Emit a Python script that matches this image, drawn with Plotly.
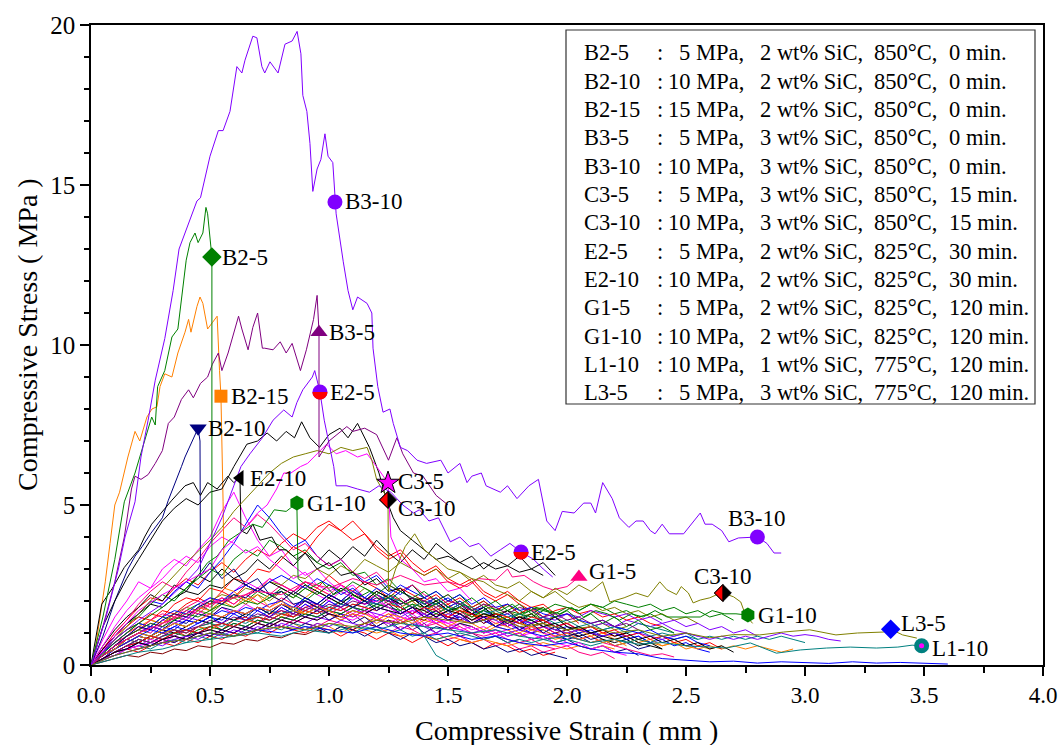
import math
import plotly.graph_objects as go

# ---------------- colours ----------------
K, R, B, M = '#000000', '#FF0000', '#0000FF', '#FF00FF'
OL, NV, PU, VI = '#808000', '#000080', '#800080', '#8000FF'
OR, DC, GR, PK, WI = '#FF8000', '#008080', '#008000', '#FF0080', '#800000'

# ---------------- labelled curves (strain mm, stress MPa) ----------------
B3_10 = [(0,0),(0.06,1.4),(0.115,3.0),(0.143,4.0),(0.185,5.1),(0.21,6.5),(0.24,7.65),(0.27,8.9),(0.31,10.2),(0.345,11.7),
         (0.37,13.0),(0.40,13.6),(0.445,14.5),(0.46,14.6),(0.50,15.9),(0.535,16.7),(0.555,16.7),(0.584,17.3),(0.613,18.7),
         (0.634,18.5),(0.647,18.9),(0.68,19.65),(0.697,19.6),(0.718,18.7),(0.73,18.5),(0.752,18.85),(0.786,18.5),(0.815,19.4),
         (0.845,19.5),(0.866,19.8),(0.882,19.1),(0.89,17.8),(0.907,17.3),(0.92,16.3),(0.932,14.8),(0.95,15.5),(0.966,15.8),
         (0.983,16.6),(0.996,15.9),(1.016,15.7),(1.025,14.5),(1.03,14.1),(1.06,12.6),(1.08,11.7),(1.10,11.1),(1.12,11.5),
         (1.16,11.3),(1.18,11.0),(1.185,9.9),(1.205,8.7),(1.227,7.9),(1.256,8.0),(1.27,7.55),(1.30,6.8),(1.33,6.7),(1.37,6.4),
         (1.41,6.3),(1.47,6.4),(1.50,6.0),(1.55,6.3),(1.58,5.7),(1.60,5.9),(1.64,6.0),(1.66,5.6),(1.72,5.4),(1.75,5.6),
         (1.79,5.2),(1.84,5.6),(1.88,5.8),(1.915,4.5),(1.95,4.2),(1.98,4.8),(2.03,4.75),(2.07,5.06),(2.10,5.06),(2.12,4.75),
         (2.15,5.7),(2.19,5.2),(2.22,4.6),(2.26,4.3),(2.29,4.5),(2.32,4.5),(2.35,4.2),(2.37,4.1),(2.40,4.4),(2.43,4.1),
         (2.49,4.1),(2.56,4.75),(2.58,4.4),(2.61,4.4),(2.65,4.2),(2.68,3.85),(2.72,3.97),(2.77,4.0),(2.80,4.0),(2.84,3.8),
         (2.87,3.5),(2.90,3.5)]
B2_5 = [(0,0),(0.05,1.5),(0.10,3.3),(0.14,5.1),(0.185,6.0),(0.23,7.1),(0.255,7.75),(0.27,7.5),(0.28,8.7),(0.31,9.2),
        (0.34,10.25),(0.365,10.5),(0.39,12.1),(0.40,12.65),(0.416,13.2),(0.437,13.5),(0.45,13.2),(0.47,13.5),(0.483,14.3),
        (0.49,14.1),(0.508,12.75),(0.508,0.0)]
B2_15 = [(0,0),(0.02,0.6),(0.04,1.6),(0.06,2.6),(0.08,3.8),(0.10,5.0),(0.12,5.4),(0.155,6.5),(0.185,7.3),(0.205,7.0),
         (0.235,7.75),(0.256,8.0),(0.277,8.07),(0.29,8.7),(0.31,9.1),(0.34,9.0),(0.365,9.75),(0.395,10.4),(0.41,10.8),
         (0.42,10.4),(0.445,11.2),(0.458,11.5),(0.47,11.3),(0.49,10.5),(0.51,10.7),(0.53,10.9),(0.54,9.2),(0.546,8.4),
         (0.555,5.1),(0.56,2.4),(0.60,2.3),(0.65,2.0),(0.70,2.2),(0.75,1.8),(0.80,2.0),(0.85,1.7),(0.90,1.6)]
B2_10 = [(0,0),(0.05,0.9),(0.10,2.0),(0.155,3.0),(0.185,3.4),(0.215,3.7),(0.25,4.1),(0.30,4.6),(0.325,5.15),(0.355,5.7),
         (0.38,6.2),(0.395,6.5),(0.425,7.0),(0.45,7.4),(0.458,7.0),(0.46,2.8),(0.50,3.2),(0.55,2.7),(0.60,3.0),(0.65,2.5),
         (0.70,2.7),(0.75,2.2),(0.80,2.3),(0.85,1.9),(0.90,2.0),(1.0,1.6)]
B3_5 = [(0,0),(0.05,1.2),(0.10,2.6),(0.14,4.0),(0.17,5.5),(0.185,5.9),(0.21,5.8),(0.24,5.95),(0.27,6.3),(0.30,6.7),
        (0.325,7.55),(0.35,7.75),(0.38,8.3),(0.41,8.6),(0.43,8.35),(0.46,8.8),(0.49,9.0),(0.51,9.4),(0.535,9.75),(0.55,9.2),
        (0.576,9.75),(0.605,10.5),(0.62,10.9),(0.634,10.5),(0.66,9.85),(0.68,10.55),(0.70,11.0),(0.72,9.9),(0.73,9.9),
        (0.765,9.85),(0.795,10.1),(0.82,9.75),(0.845,10.05),(0.88,9.2),(0.905,9.85),(0.935,10.8),(0.95,11.55),(0.958,10.4),
        (0.958,6.5),(1.0,7.0),(1.05,7.3),(1.075,7.45),(1.1,7.3),(1.15,7.4),(1.2,7.2),(1.25,6.4),(1.285,7.1),(1.31,6.6),
        (1.355,6.0),(1.395,5.9),(1.45,5.3),(1.5,5.0)]
E2_5 = [(0,0),(0.1,0.8),(0.2,1.4),(0.3,1.9),(0.4,2.6),(0.45,3.0),(0.5,3.8),(0.55,4.6),(0.6,5.6),(0.63,6.2),(0.668,6.6),
        (0.72,7.1),(0.765,7.65),(0.81,7.97),(0.845,7.75),(0.865,8.2),(0.89,8.6),(0.93,9.0),(0.94,9.2),(0.955,8.7),(0.962,8.53),
        (0.98,7.65),(1.02,6.2),(1.03,5.6),(1.075,5.6),(1.12,5.5),(1.17,5.4),(1.21,5.6),(1.26,5.4),(1.31,5.0),(1.355,4.75),
        (1.38,4.85),(1.42,4.5),(1.46,4.6),(1.51,3.85),(1.55,4.0),(1.59,3.7),(1.63,3.8),(1.68,3.4),(1.72,3.6),(1.76,3.8),
        (1.807,3.53),(1.86,3.3),(1.90,3.0),(1.94,2.75)]
E2_10 = [(0,0),(0.045,1.9),(0.09,2.4),(0.14,3.05),(0.2,3.6),(0.225,4.0),(0.255,4.4),(0.3,4.8),(0.34,5.15),(0.395,5.6),
         (0.43,5.7),(0.46,5.3),(0.49,5.7),(0.53,5.5),(0.575,5.9),(0.6,5.7),(0.626,5.84),(0.63,4.2),(0.655,4.1),(0.68,4.4),
         (0.71,3.9),(0.76,4.0),(0.79,3.6),(0.82,3.6),(0.865,3.3),(0.9,3.5),(0.95,3.0),(1.0,3.2),(1.05,2.8),(1.1,2.9),
         (1.15,2.5),(1.2,2.7),(1.25,2.3),(1.3,2.4),(1.35,2.0),(1.4,2.1)]
BK_HI = [(0,0),(0.05,1.2),(0.1,2.0),(0.15,2.7),(0.2,3.3),(0.25,3.9),(0.3,4.5),(0.35,4.9),(0.4,5.2),(0.45,5.0),(0.5,5.4),
         (0.55,5.5),(0.6,6.2),(0.655,6.9),(0.7,7.0),(0.74,7.25),(0.78,7.0),(0.82,7.3),(0.855,7.1),(0.885,7.6),(0.92,7.1),
         (0.96,6.8),(1.0,7.2),(1.046,7.4),(1.08,7.1),(1.12,7.55),(1.17,6.8),(1.21,6.0),(1.24,5.2),(1.27,4.6),(1.3,4.2),
         (1.35,3.9),(1.4,3.6),(1.45,3.3),(1.5,3.4),(1.55,3.2),(1.6,3.0),(1.65,3.2),(1.7,3.0),(1.75,3.1),(1.8,2.9),(1.85,3.0),(1.9,2.8)]
G1_10 = [(0,0),(0.1,0.7),(0.2,1.3),(0.3,1.8),(0.4,2.4),(0.45,2.8),(0.49,3.2),(0.53,3.4),(0.58,3.9),(0.62,4.1),(0.68,4.4),
         (0.72,4.3),(0.77,4.85),(0.82,4.8),(0.865,5.06),(0.87,2.7),(0.92,2.4),(0.97,2.6),(1.02,2.2),(1.07,2.4),(1.12,2.1),
         (1.17,2.3),(1.22,2.0),(1.27,2.2),(1.32,1.9),(1.37,2.1),(1.42,1.8),(1.47,2.0),(1.52,1.7),(1.57,1.9),(1.62,1.6),
         (1.67,1.8),(1.72,1.7),(1.77,1.9),(1.82,1.6),(1.87,1.8),(1.92,1.7),(1.97,1.6),(2.02,1.8),(2.07,1.5),(2.12,1.7),
         (2.17,1.6),(2.22,1.4),(2.27,1.6),(2.32,1.5),(2.37,1.7),(2.42,1.5),(2.47,1.5),(2.52,1.5),(2.56,1.5),(2.61,1.7),
         (2.66,1.6),(2.71,1.6),(2.76,1.56)]
G1_5 = [(0,0),(0.1,0.6),(0.2,1.0),(0.3,1.3),(0.4,1.6),(0.5,1.9),(0.6,2.1),(0.7,2.3),(0.8,2.2),(0.9,2.6),(1.0,2.4),(1.1,2.7),
        (1.2,2.5),(1.3,2.8),(1.4,2.5),(1.5,2.6),(1.58,2.45),(1.63,2.7),(1.7,2.65),(1.75,3.0),(1.77,2.75),(1.82,2.8),(1.86,2.6),
        (1.9,2.45),(1.94,2.35),(2.0,2.45),(2.05,2.75)]
C3_5 = [(0,0),(0.1,0.9),(0.2,1.7),(0.3,2.2),(0.4,2.6),(0.5,3.0),(0.55,3.6),(0.6,3.9),(0.65,4.3),(0.70,4.75),(0.74,5.0),
        (0.78,5.5),(0.81,6.0),(0.84,6.0),(0.88,6.2),(0.91,6.3),(0.95,6.6),(0.99,6.9),(1.03,6.6),(1.07,6.7),(1.12,6.5),
        (1.16,6.6),(1.2,6.2),(1.248,5.69),(1.26,4.0),(1.3,3.3),(1.35,3.0),(1.4,2.6),(1.45,2.7),(1.5,2.3),(1.55,2.4),(1.6,2.0)]
C3_10 = [(0,0),(0.1,0.8),(0.2,1.6),(0.3,2.4),(0.4,3.2),(0.5,3.9),(0.55,4.3),(0.6,4.8),(0.65,5.2),(0.7,5.6),(0.75,6.0),
         (0.8,6.3),(0.85,6.5),(0.9,6.6),(0.95,6.7),(1.0,6.6),(1.05,6.8),(1.1,6.7),(1.16,6.8),(1.18,6.4),(1.2,5.8),(1.23,5.4),
         (1.248,5.16),(1.25,2.3),(1.28,3.0),(1.32,3.7),(1.36,4.1),(1.40,3.6),(1.45,3.3),(1.5,3.0),(1.55,2.9),(1.6,2.7),
         (1.65,2.6),(1.7,2.35),(1.75,2.2),(1.8,2.0),(1.85,2.3),(1.9,2.1),(1.95,2.4),(2.0,2.2),(2.05,2.5),(2.1,2.3),(2.15,2.6),
         (2.18,1.97),(2.24,2.1),(2.29,2.25),(2.34,2.13),(2.39,2.6),(2.42,2.35),(2.46,2.2),(2.48,2.45),(2.51,2.25),(2.53,1.94),
         (2.56,2.03),(2.60,2.1),(2.63,2.2),(2.655,2.25),(2.70,2.13),(2.73,1.97),(2.75,1.56),(2.78,1.3)]
L3_5 = [(0,0),(0.1,0.3),(0.2,0.5),(0.3,0.7),(0.4,0.8),(0.5,1.0),(0.6,0.9),(0.7,1.1),(0.8,1.2),(0.9,1.1),(1.0,1.3),(1.1,1.2),
        (1.2,1.4),(1.3,1.3),(1.4,1.5),(1.5,1.4),(1.6,1.3),(1.7,1.5),(1.8,1.2),(1.9,1.3),(2.0,1.1),(2.1,1.2),(2.2,1.0),(2.3,1.1),
        (2.4,0.9),(2.5,1.0),(2.6,0.85),(2.7,0.95),(2.81,0.94),(2.91,1.03),(3.02,1.1),(3.13,0.94),(3.22,1.0),(3.33,1.03),
        (3.36,1.12),(3.41,0.94),(3.47,0.84)]
L1_10 = [(0,0),(0.1,0.2),(0.2,0.4),(0.3,0.5),(0.4,0.7),(0.5,0.8),(0.6,0.9),(0.7,1.0),(0.8,0.9),(0.9,1.1),(1.0,1.0),(1.1,1.2),
         (1.2,1.1),(1.3,1.3),(1.4,1.2),(1.5,1.1),(1.6,1.0),(1.7,1.1),(1.8,0.9),(1.9,0.8),(2.0,0.9),(2.1,0.7),(2.2,0.8),
         (2.3,0.65),(2.4,0.7),(2.5,0.6),(2.6,0.55),(2.67,0.53),(2.77,0.69),(2.88,0.37),(2.98,0.47),(3.09,0.53),(3.19,0.56),
         (3.3,0.53),(3.39,0.56),(3.45,0.62),(3.49,0.6)]
BLUE_LOW = [(0,0),(0.1,0.3),(0.2,0.5),(0.3,0.7),(0.4,0.8),(0.5,1.0),(0.6,0.9),(0.7,1.1),(0.8,1.0),(0.9,1.2),(1.0,1.1),
            (1.1,1.0),(1.2,1.2),(1.3,1.0),(1.4,0.9),(1.5,1.0),(1.6,0.8),(1.7,0.9),(1.8,0.7),(1.9,0.6),(2.0,0.7),(2.1,0.5),
            (2.2,0.4),(2.3,0.35),(2.4,0.2),(2.5,0.15),(2.6,0.1),(2.7,0.12),(2.8,0.06),(2.9,0.1),(3.0,0.08),(3.1,0.05),
            (3.2,0.1),(3.3,0.06),(3.4,0.08),(3.5,0.05),(3.6,0.03)]

# ---------------- unlabelled curves (stress sampled every 0.05 mm from 0) ----------------
STEP = 0.05
bg01 = [0,0.5,1.0,1.4,1.8,2.1,2.0,2.4,2.7,2.5,2.9,3.2,2.9,3.3,3.6,3.4,3.8,4.1,3.9,4.3,4.5,4.2,3.9,4.1,3.6,3.3,3.5,3.0,2.8,3.0,2.6,2.4,2.6,2.2,2.0,2.2,1.9,1.7,1.8,1.5,1.6,1.3]
bg02 = [0,0.8,1.5,2.0,2.6,2.4,3.0,3.3,3.1,3.6,4.0,4.8,5.4,4.6,3.9,3.4,3.6,3.1,2.8,3.0,2.6,2.3,2.5,2.1,1.9,2.1,1.8,1.6,1.8,1.5,1.3,1.4]
bg03 = [0,0.6,1.1,1.5,1.8,2.2,2.0,2.5,2.3,2.8,2.6,3.0,2.7,2.9,3.3,3.0,3.4,3.1,3.5,3.2,3.6,3.3,3.7,3.4,3.9,3.5,3.2,3.6,3.3,3.8,3.5,3.2,3.4,3.0,3.3,3.1,3.4,3.0,3.2,2.8]
bg04 = [0,0.4,0.9,1.3,1.6,2.0,1.9,2.3,2.6,2.4,2.9,3.3,3.8,4.4,5.0,4.6,4.1,3.7,3.9,3.4,3.1,3.3,2.9,2.6,2.8,2.4,2.2,2.5,2.1,1.9,2.1,1.8,1.6,1.8,1.5]
bg05 = [0,0.5,0.9,1.3,1.5,1.9,2.2,2.0,2.4,2.7,3.0,2.8,3.3,3.6,3.4,3.9,3.7,3.4,3.6,3.2,3.0,3.2,2.8,2.9,2.5,2.7,2.3,2.5,2.1,2.3,2.0,2.2,1.8,2.0,1.7,1.9,1.6,1.7,1.4,1.5,1.2]
bg06 = [0,0.5,1.0,1.4,1.9,2.3,2.6,2.4,2.9,3.3,3.8,4.2,4.6,4.3,4.7,4.4,4.0,3.6,3.8,3.4,3.1,3.3,2.9,2.7,2.9,2.5,2.3,2.5,2.2,2.0,2.2,1.9,1.7,1.9,1.6,1.4]
bg07 = [0,0.4,0.8,1.1,1.3,1.6,1.5,1.9,2.1,2.0,2.4,2.3,2.7,2.6,3.0,2.9,3.3,3.7,3.5,4.0,4.4,4.2,4.5,4.1,3.7,3.4,3.6,3.2,2.9,3.1,2.7,2.5,2.7,2.3,2.1,2.3,2.0,1.8,1.9,1.6]
bg08 = [0,0.3,0.6,0.8,1.0,0.9,1.2,1.1,1.4,1.3,1.5,1.4,1.7,1.6,1.8,1.7,1.9,1.8,2.1,1.9,2.2,2.0,2.3,2.1,2.0,2.2,1.9,2.1,1.8,1.9,1.7,1.8,1.6,1.7,1.5,1.4,1.5,1.3,1.4,1.2,1.1,1.2,1.0,0.9,1.0,0.8,0.9,0.7]
bg09 = [0,0.2,0.5,0.7,0.9,0.8,1.0,1.1,0.9,1.2,1.3,1.1,1.4,1.5,1.3,1.6,1.7,1.5,1.8,1.9,1.7,2.0,1.8,2.1,1.9,2.2,2.0,1.8,2.0,1.7,1.9,1.6,1.8,1.5,1.6,1.4,1.5,1.3,1.4,1.2,1.3,1.1,1.2,1.0,0.9,1.0]
bg10 = [0,0.4,0.7,1.0,1.2,1.1,1.4,1.3,1.5,1.7,1.5,1.8,1.6,1.9,1.7,1.5,1.8,1.6,1.9,1.7,2.0,1.8,1.6,1.8,1.5,1.7,1.4,1.6,1.3,1.5,1.2,1.3,1.1,1.2,1.0,1.1,0.9,1.0,0.8,0.9,0.7]
bg11 = [0,0.3,0.6,0.9,1.1,1.0,1.3,1.5,1.4,1.7,1.6,1.9,2.1,1.9,2.2,2.0,2.3,2.1,2.4,2.2,2.5,2.3,2.1,2.4,2.2,2.0,2.3,2.1,1.9,2.1,1.8,2.0,1.7,1.9,1.6,1.7,1.5,1.6,1.4,1.5,1.3,1.4,1.2,1.3,1.1,1.2]
bg12 = [0,0.2,0.4,0.6,0.7,0.9,0.8,1.0,1.1,1.0,1.2,1.1,1.3,1.2,1.4,1.3,1.5,1.4,1.6,1.5,1.7,1.6,1.8,1.7,1.9,1.8,1.6,1.8,1.5,1.7,1.4,1.5,1.3,1.4,1.2,1.3,1.1,1.0,1.1,0.9,0.8,0.9,0.7,0.8,0.6,0.7,0.5,0.6]
bg13 = [0,0.3,0.5,0.7,0.9,0.8,1.0,0.9,1.1,1.2,1.1,1.3,1.2,1.4,1.3,1.5,1.4,1.6,1.5,1.7,1.6,1.4,1.6,1.3,1.5,1.2,1.4,1.1,1.3,1.0,1.2,0.9,1.0,0.8,0.9,0.7,0.8]
bg14 = [0,0.2,0.4,0.5,0.7,0.6,0.8,0.9,0.8,1.0,0.9,1.1,1.0,1.2,1.1,1.3,1.2,1.4,1.3,1.5,1.4,1.6,1.5,1.7,1.6,1.5,1.7,1.4,1.6,1.3,1.5,1.4,1.6,1.3,1.5,1.2,1.4,1.3,1.5,1.2,1.3,1.1,1.2,1.3,1.2,1.4,1.3,1.2,1.3,1.1,1.0,0.9]
bg15 = [0,0.3,0.6,0.8,1.0,1.2,1.1,1.3,1.2,1.4,1.6,1.5,1.7,1.6,1.8,1.7,1.5,1.7,1.6,1.8,1.6,1.4,1.6,1.5,1.3,1.5,1.4,1.2,1.4,1.3,1.1,1.3,1.2,1.0,1.2,1.1,0.9,1.1,1.0,0.8,0.9,0.8,0.7,0.8,0.6,0.7,0.8,0.7,0.6,0.7,0.5,0.6,0.5,0.6]
bg16 = [0,0.3,0.5,0.8,1.0,0.9,1.1,1.3,1.2,1.4,1.3,1.5,1.4,1.6,1.5,1.7,1.6,1.8,1.7,1.9,1.8,2.0,2.1,1.9,2.2,2.0,1.8,2.0,1.7,1.9,1.6,1.8,1.5,1.6,1.4,1.5,1.3,1.4,1.2,1.3,1.1,1.2,1.0,1.1,1.2,1.1,1.3,1.2,1.1,1.0]
bg17 = [0,0.4,0.8,1.1,1.3,1.2,1.5,1.4,1.7,1.9,1.7,2.0,2.2,2.0,2.3,2.1,2.4,2.2,2.0,2.3,2.1,1.9,2.2,2.0,1.8,2.0,1.7,1.9,1.6,1.8,1.5,1.7,1.4,1.6,1.5,1.7,1.6,1.8,1.7,1.9,1.8,1.7,1.9,1.8,1.6,1.7,1.5,1.6,1.4]
bg18 = [0,0.2,0.4,0.6,0.5,0.7,0.8,0.7,0.9,1.0,0.9,1.1,1.0,1.2,1.1,1.3,1.2,1.4,1.3,1.2,1.4,1.3,1.1,1.3,1.2,1.0,1.2,1.1,0.9,1.0,0.8,0.9,0.7,0.8,0.6,0.7,0.5,0.6,0.4,0.5]
bg19 = [0,0.1,0.2,0.3,0.25,0.4,0.35,0.5,0.45,0.6,0.55,0.7,0.65,0.8,0.75,0.9,0.85,1.0,0.95,1.1,1.0,1.2,1.1,1.3,1.2,1.4,1.3,1.5,1.4,1.6,1.5,1.4,1.6,1.3,1.5,1.2,1.4,1.1,1.2,1.0,1.1,0.9]
bg20 = [0,0.3,0.5,0.8,0.7,0.9,1.1,1.0,1.2,1.4,1.3,1.5,1.4,1.6,1.8,1.6,1.9,1.7,2.0,1.8,2.1,1.9,2.2,2.0,2.3,2.1,1.9,2.1,1.8,2.0,1.7,1.8,1.6,1.5,1.6,1.4,1.3,1.2,1.3,1.1,1.0,0.9,1.0,0.8,0.7,0.8,0.6,0.7,0.5]
bg21 = [0,0.5,0.9,1.2,1.5,1.4,1.7,1.6,1.9,2.1,1.9,2.3,2.1,2.5,2.3,2.7,2.5,2.3,2.6,2.4,2.8,2.5,2.3,2.6,2.4,2.1,2.4,2.2,2.0,2.2,1.9,2.1,1.8,2.0,1.7,1.9,1.6,1.8,1.5,1.7,1.8,1.6,1.7,1.5,1.6,1.4,1.5,1.3,1.2]
bg22 = [0,0.2,0.5,0.7,0.9,0.8,1.0,1.2,1.1,1.3,1.5,1.3,1.6,1.4,1.7,1.5,1.8,1.6,1.9,1.7,2.0,1.8,2.1,1.9,2.2,2.0,2.3,2.1,1.9,2.1,1.8,2.0,1.7,1.8,1.5,1.6,1.4,1.2,1.3,1.1,1.2,1.0,1.1,0.9,1.0,0.8,0.9,0.7,0.8,0.6,0.7,0.5,0.4]
bg23 = [0,0.3,0.6,0.9,1.2,1.0,1.3,1.6,1.4,1.8,2.1,1.9,2.3,2.6,2.4,2.7,2.5,2.3,2.5,2.2,2.0,2.3,2.1,1.9,2.1,1.8,1.6,1.8,1.5,1.7,1.4,1.6,1.3,1.5,1.2,1.3,1.1,1.2,1.0,0.9,1.0,0.8,0.9,0.7]
bg24 = [0,0.3,0.6,0.9,1.1,1.4,1.3,1.6,1.8,1.7,2.0,2.2,2.1,2.4,2.3,2.6,2.5,2.8,2.7,3.0,2.8,3.1,2.9,3.3,3.1,2.9,3.2,3.0,2.8,3.0,2.7,2.9,2.6,2.8,2.5,2.4,2.6,2.3,2.1,2.3,2.0,1.8,1.9,1.7,1.8,1.6,1.7,1.5,1.6,1.4,1.5,1.3]
bg25 = [0,0.3,0.6,0.8,1.0,1.2,1.1,1.4,1.3,1.6,1.5,1.8,1.7,1.5,1.8,1.6,1.9,1.7,1.5,1.7,1.4,1.6,1.3,1.5,1.2,1.4,1.1,1.3,1.0,1.2,1.1,1.3,1.2,1.0,1.1,0.9,1.0,0.8,0.9,0.7,0.8,0.6,0.5,0.6,0.4,0.5,0.3]
bg26 = [0,0.3,0.5,0.7,0.9,0.8,1.0,1.1,1.0,1.2,1.3,1.2,1.4,1.3,1.5,1.4,1.6,1.5,1.7,1.6,1.8,1.7,1.9,1.8,2.0,2.2,1.9,1.5,0.9,0.3,0.1]
bg27 = [0,0.4,0.7,1.0,1.2,1.4,1.3,1.6,1.5,1.8,1.7,2.0,1.8,2.1,1.9,2.2,2.0,2.3,2.1,2.4,2.2,2.0,2.3,2.1,1.9,2.1,1.8,2.0,1.7,1.9,1.6,1.8,1.5,1.6,1.4,1.5,1.3,1.2,1.3,1.1,1.0,1.1,0.9,1.0,0.8,0.9,0.7,0.8,0.6,0.7,0.6,0.5,0.6,0.5,0.6,0.5,0.6,0.5,0.4,0.5]
bg28 = [0,0.4,0.7,0.9,1.1,1.3,1.2,1.5,1.7,1.6,1.9,2.1,1.9,2.2,2.4,2.2,2.5,2.3,2.6,2.4,2.2,2.5,2.3,2.0,2.2,1.9,2.1,1.8,1.6,1.8,1.5,1.7,1.4,1.5,1.3,1.4,1.2,1.1,1.2,1.0,0.9,0.8,0.9,0.7,0.6,0.5,0.4,0.3,0.35,0.25]
bg29 = [0,0.3,0.6,0.8,1.0,1.2,1.1,1.3,1.5,1.4,1.6,1.5,1.7,1.6,1.8,1.7,1.9,1.8,2.0,1.9,1.7,1.9,1.8,1.6,1.8,1.7,1.5,1.7,1.6,1.4,1.6,1.5,1.3,1.5,1.4,1.2,1.4,1.3,1.5,1.4,1.6,1.5,1.7,1.6,1.5,1.6,1.4,1.5,1.3,1.4,1.2,1.3,1.1,1.2,1.0,1.1,0.9]
bg30 = [0,0.5,0.9,1.3,1.6,1.9,1.8,2.1,2.3,2.2,2.5,2.4,2.7,2.5,2.3,2.6,2.4,2.2,2.5,2.3,2.1,2.4,2.2,2.0,2.3,2.1,1.9,2.1,1.8,2.0,1.7,1.9,1.6,1.8,1.5,1.7,1.4,1.6,1.3,1.5,1.2,1.1,1.0,0.9,0.8,0.9,0.7,0.6,0.5]
bg31 = [0,0.2,0.4,0.6,0.8,0.7,0.9,1.0,0.9,1.1,1.2,1.1,1.3,1.2,1.4,1.3,1.5,1.4,1.6,1.5,1.7,1.6,1.8,1.7,1.9,1.8,1.7,1.9,1.8,1.6,1.8,1.7,1.5,1.7,1.6,1.4,1.6,1.5,1.7,1.6,1.8,1.7,1.9,1.8,2.0,1.9,1.8,1.9,1.7,1.8,1.6,1.7,1.5,1.6,1.4]
bg32 = [0,0.2,0.3,0.5,0.4,0.6,0.7,0.6,0.8,0.7,0.9,0.8,1.0,0.9,1.1,1.0,1.2,1.1,1.0,1.2,1.1,0.9,1.1,1.0,0.8,1.0,0.9,0.7,0.9,0.8,0.6,0.8,0.7,0.5,0.7,0.6,0.4,0.5,0.3,0.4]
bg33 = [0,0.4,0.7,1.0,1.3,1.2,1.5,1.7,1.6,1.9,2.1,2.0,2.3,2.5,2.3,2.6,2.8,2.6,2.4,2.7,2.5,2.2,2.4,2.1,1.9,2.1,1.8,1.6,1.8,1.5,1.7,1.4,1.3,1.4,1.2,1.1,1.2,1.0,0.9,1.0,0.8]
bg34 = [0,0.6,1.2,1.7,2.1,2.4,2.7,3.1,3.4,3.2,3.7,4.0,3.8,3.5,3.7,3.3,3.0,2.7,2.9,2.5,2.3,2.5,2.1,1.9,2.0,1.8,1.6,1.7,1.5,1.3,1.4,1.2]
bg35 = [0,0.2,0.4,0.5,0.7,0.6,0.8,0.7,0.9,1.0,0.9,1.1,1.0,1.2,1.1,1.3,1.2,1.1,1.3,1.2,1.0,1.2,1.1,0.9,1.1,1.0,0.8,1.0,0.9,0.7,0.8,0.6,0.7,0.5,0.6,0.4,0.5,0.3,0.4,0.3,0.2]
bg36 = [0,0.3,0.5,0.7,0.9,0.8,1.0,1.1,1.0,1.2,1.1,1.3,1.2,1.4,1.3,1.2,1.4,1.3,1.1,1.3,1.2,1.0,1.2,1.1,1.0,1.1,0.9,1.0,0.9,0.8,0.9,0.8,0.7,0.8,0.7,0.6,0.7,0.6,0.7,0.6,0.5,0.6,0.5,0.6,0.5]
bg37 = [0,0.3,0.6,0.9,1.1,1.4,1.6,1.5,1.8,2.0,1.8,2.1,1.9,2.2,2.0,1.8,2.1,1.9,1.7,1.9,1.6,1.8,1.5,1.7,1.4,1.6,1.3,1.5,1.2,1.3,1.1,1.2,1.0,0.9,1.0,0.8,0.7,0.8,0.6,0.5,0.6,0.4,0.3,0.4,0.2]
bg38 = [0,0.2,0.4,0.6,0.8,0.7,0.9,1.0,1.1,1.0,1.2,1.3,1.2,1.4,1.5,1.4,1.6,1.7,1.6,1.8,1.7,1.9,1.8,2.0,1.9,2.1,2.0,1.8,2.0,1.9,1.7,1.9,1.8,1.6,1.7,1.5,1.6,1.4,1.5,1.3,1.4,1.2,1.3,1.1,1.2,1.0,1.1,0.9,1.0,0.9,1.0,0.8]
bg39 = [0,0.2,0.3,0.5,0.6,0.5,0.7,0.8,0.7,0.9,0.8,1.0,0.9,1.1,1.0,1.2,1.1,1.3,1.2,1.1,1.3,1.2,1.0,1.2,1.1,1.0,1.1,0.9,1.0,0.8,0.9,1.0,0.9,0.8,0.9,0.7,0.8,0.7,0.8,0.7,0.8,0.7,0.6,0.7,0.8,0.7,0.8,0.7,0.9,0.8,0.9,0.8,0.9,0.8,0.9,0.8,0.9,0.8,0.9,0.8,0.7]
bg40 = [0,0.2,0.4,0.5,0.6,0.7,0.6,0.8,0.9,0.8,1.0,0.9,1.1,1.0,1.2,1.1,1.3,1.2,1.1,1.3,1.2,1.4,1.3,1.2,1.4,1.3,1.1,1.3,1.2,1.0,1.2,1.1,1.0,1.1,0.9,1.0,1.1,1.0,1.2,1.1,1.0,1.1,1.0,0.9,1.0,0.9,1.0,0.9,0.8,0.9,1.0,0.9,0.8,0.9,0.8,0.9,0.8,0.9,1.0,0.9,0.95,0.9,0.8,0.75]
bg41 = [0,0.2,0.4,0.6,0.7,0.9,0.8,1.0,1.1,1.0,1.2,1.3,1.2,1.4,1.5,1.4,1.6,1.5,1.7,1.6,1.8,1.7,1.9,1.8,1.7,1.9,1.8,1.6,1.8,1.7,1.5,1.7,1.6,1.4,1.6,1.5,1.3,1.5,1.4,1.2,1.3,1.1,1.2,1.0,1.1,0.9,1.0,0.8,0.9,0.7,0.8,0.6,0.7,0.5]
bg42 = [0,0.3,0.5,0.7,0.9,1.1,1.0,1.2,1.4,1.3,1.5,1.7,1.6,1.8,1.7,1.9,2.0,1.8,2.1,1.9,2.2,2.0,2.3,2.1,2.4,2.2,2.5,2.3,2.1,2.3,2.0,2.2,1.9,2.1,1.8,1.9,1.7,1.8,1.6,1.5,1.6,1.4,1.3,1.4,1.2,1.1,1.0,1.1,0.9,0.8,0.9,0.7,0.6]
bg43 = [0,0.2,0.3,0.5,0.6,0.8,0.7,0.9,0.8,1.0,1.1,1.0,1.2,1.1,1.3,1.2,1.4,1.3,1.5,1.4,1.6,1.5,1.4,1.6,1.5,1.3,1.5,1.4,1.2,1.4,1.3,1.1,1.2,1.0,1.1,0.9,1.0,0.8,0.9,0.7,0.6,0.7,0.5,0.6,0.4,0.3]
bg44 = [0,0.3,0.6,0.9,1.1,1.3,1.2,1.4,1.6,1.5,1.7,1.9,1.8,2.0,1.9,2.1,2.3,2.1,2.4,2.2,2.5,2.3,2.6,2.4,2.2,2.5,2.3,2.1,2.3,2.0,2.2,1.9,2.1,1.8,2.0,1.7,1.9,1.6,1.8,1.5,1.7,1.4,1.6,1.3,1.5,1.2,1.4,1.1,1.2,1.0]
bg45 = [0,0.2,0.4,0.6,0.8,0.7,0.9,1.1,1.0,1.2,1.4,1.3,1.5,1.4,1.6,1.5,1.7,1.6,1.8,1.7,1.9,1.8,2.0,1.9,2.1,2.0,1.9,2.1,2.0,1.8,2.0,1.9,1.7,1.9,1.8,1.6,1.8,1.7,1.5,1.6,1.4,1.5,1.3,1.4,1.2,1.3,1.1]
bg46 = [0,0.2,0.4,0.5,0.7,0.6,0.8,0.9,0.8,1.0,1.1,1.0,1.2,1.1,1.3,1.2,1.4,1.3,1.5,1.4,1.6,1.5,1.7,1.6,1.8,1.7,1.6,1.8,1.7,1.5,1.7,1.6,1.4,1.6,1.5,1.3,1.5,1.4,1.2,1.3,1.1,1.2,1.0,1.1,0.9,1.0,0.8,0.9,0.7,0.8,0.6,0.7,0.5,0.6,0.4]
bg47 = [0,0.3,0.5,0.8,1.0,0.9,1.1,1.3,1.2,1.4,1.6,1.5,1.7,1.6,1.8,1.7,1.9,1.8,1.6,1.8,1.7,1.5,1.7,1.6,1.4,1.6,1.5,1.3,1.5,1.4,1.2,1.4,1.3,1.1,1.3,1.2,1.0,1.2,1.1,0.9,1.0,0.8,0.9,0.7,0.8,0.6]
bg48 = [0,0.3,0.6,0.9,1.2,1.1,1.4,1.6,1.5,1.8,2.0,1.9,2.2,2.1,2.4,2.2,2.0,2.3,2.1,1.9,2.2,2.0,1.8,2.0,1.7,1.9,1.6,1.8,1.5,1.7,1.4,1.6,1.3,1.5,1.2,1.4,1.1,1.3,1.0,1.2,0.9,1.0,0.8,0.9]

BG = [(bg01, R), (bg02, M), (bg03, K), (bg04, B), (bg05, GR), (bg06, PK), (bg07, R), (bg08, B),
      (bg09, R), (bg10, M), (bg11, OL), (bg12, NV), (bg13, PU), (bg14, VI), (bg15, OR), (bg16, DC),
      (bg17, GR), (bg18, PK), (bg19, WI), (bg20, K), (bg21, R), (bg22, B), (bg23, M), (bg24, OL),
      (bg25, NV), (bg26, DC), (bg27, OR), (bg28, PK), (bg29, VI), (bg30, K), (bg31, GR), (bg32, R),
      (bg33, B), (bg34, M), (bg35, NV), (bg36, OR), (bg37, PK), (bg38, DC), (bg39, DC), (bg40, VI),
      (bg41, R), (bg42, B), (bg43, M), (bg44, GR), (bg45, PU), (bg46, K), (bg47, OR), (bg48, NV)]

MAIN = [(BLUE_LOW, B), (L1_10, DC), (L3_5, OL), (B2_10, NV), (B2_15, OR), (E2_10, K), (BK_HI, K), (G1_10, GR),
        (G1_5, PK), (C3_5, M), (C3_10, OL), (E2_5, VI), (B3_5, PU), (B2_5, GR), (B3_10, VI)]

# ---------------- markers ----------------
MK_LABEL = ['B3-10', 'B2-5', 'B3-5', 'E2-5', 'B2-15', 'B2-10', 'E2-10', 'G1-10', 'C3-5', 'C3-10',
            'E2-5', 'G1-5', 'B3-10', 'C3-10', 'G1-10', 'L3-5', 'L1-10']
MK_X = [1.025, 0.508, 0.958, 0.962, 0.546, 0.45, 0.626, 0.865, 1.248, 1.248,
        1.807, 2.05, 2.80, 2.655, 2.76, 3.36, 3.49]
MK_Y = [14.47, 12.75, 10.4, 8.53, 8.4, 7.4, 5.84, 5.06, 5.69, 5.16,
        3.53, 2.75, 4.0, 2.25, 1.56, 1.12, 0.6]
MK_STYLE = [('circle', VI, 15), ('diamond', GR, 15), ('triangle-up', PU, 15), ('circle', VI, 15),
            ('square', OR, 13), ('triangle-down', NV, 15), ('triangle-left', K, 14), ('hexagon', GR, 15),
            ('star', M, 17), ('diamond', K, 13), ('circle', VI, 15), ('triangle-up', PK, 15),
            ('circle', VI, 15), ('diamond', K, 13), ('hexagon', GR, 15), ('diamond', B, 15), ('circle', DC, 15)]
LABEL_ABOVE = {12: 19, 13: 17}
LABEL_YSHIFT = {8: 1, 9: -9, 11: 6, 15: 6, 16: -3}

# ---------------- legend table ----------------
LEG_NAME = ['B2-5', 'B2-10', 'B2-15', 'B3-5', 'B3-10', 'C3-5', 'C3-10', 'E2-5', 'E2-10', 'G1-5', 'G1-10', 'L1-10', 'L3-5']
LEG_P = [5, 10, 15, 5, 10, 5, 10, 5, 10, 5, 10, 10, 5]
LEG_SIC = [2, 2, 2, 3, 3, 3, 3, 2, 2, 2, 2, 1, 3]
LEG_T = [850, 850, 850, 850, 850, 850, 850, 825, 825, 825, 825, 775, 775]
LEG_MIN = [0, 0, 0, 0, 0, 15, 15, 30, 30, 120, 120, 120, 120]

FONT = 'Liberation Serif, Times New Roman, serif'
# the page body margin is removed by a small post script, so the figure fills the 1059x745 window
W, H = 1059, 745
ML, MR, MT, MB = 91, 16, 25, 80
PX0, PY0, PW, PH = 91, 25, W - ML - MR, H - MT - MB

def px2fx(px):
    return (px - PX0) / PW

def py2fy(py):
    return 1 - (py - PY0) / PH

fig = go.Figure()

for ys, c in BG:
    xs = [round(i * STEP, 4) for i in range(len(ys))]
    fig.add_trace(go.Scatter(x=xs, y=ys, mode='lines', line=dict(color=c, width=1),
                             hoverinfo='skip', showlegend=False))

for pts, c in MAIN:
    fig.add_trace(go.Scatter(x=[p[0] for p in pts], y=[p[1] for p in pts], mode='lines',
                             line=dict(color=c, width=1), hoverinfo='skip', showlegend=False))

for i, (sym, col, size) in enumerate(MK_STYLE):
    lw = 1 if sym in ('star', 'diamond') and col in (M, K) else 0
    fig.add_trace(go.Scatter(x=[MK_X[i]], y=[MK_Y[i]], mode='markers',
                             marker=dict(symbol=sym, color=col, size=size,
                                         line=dict(color='black', width=lw)),
                             showlegend=False, hoverinfo='skip', cliponaxis=False))

fig.add_trace(go.Scatter(x=[MK_X[16]], y=[MK_Y[16]], mode='markers',
                         marker=dict(symbol='circle', color=M, size=5), showlegend=False, hoverinfo='skip'))

def poly(pts):
    return 'M ' + ' L '.join(f'{a:.2f},{b:.2f}' for a, b in pts) + ' Z'

shapes = []
r = 7.5
half = [(r * math.cos(math.pi + math.pi * k / 24), r * math.sin(math.pi + math.pi * k / 24)) for k in range(25)]
for i in (3, 10):
    shapes.append(dict(type='path', xref='x', yref='y', xsizemode='pixel', ysizemode='pixel',
                       xanchor=MK_X[i], yanchor=MK_Y[i], path=poly(half), fillcolor=R,
                       line=dict(width=0), layer='above'))
d = 0.65 * 13
for i in (9, 13):
    shapes.append(dict(type='path', xref='x', yref='y', xsizemode='pixel', ysizemode='pixel',
                       xanchor=MK_X[i], yanchor=MK_Y[i], path=poly([(0, d), (-d, 0), (0, -d)]), fillcolor=R,
                       line=dict(width=1, color='black'), layer='above'))

shapes.append(dict(type='rect', xref='paper', yref='paper', x0=px2fx(566), x1=px2fx(1035),
                   y0=py2fy(404), y1=py2fy(30), line=dict(color='#333333', width=1.2),
                   fillcolor='white', layer='above'))

ann = []
LBL = dict(family=FONT, size=23, color='black')
for i, lab in enumerate(MK_LABEL):
    if i in LABEL_ABOVE:
        ann.append(dict(x=MK_X[i], y=MK_Y[i], text=lab, showarrow=False, xanchor='center', yanchor='middle',
                        yshift=LABEL_ABOVE[i], font=LBL))
    else:
        ann.append(dict(x=MK_X[i], y=MK_Y[i], text=lab, showarrow=False, xanchor='left', yanchor='middle',
                        xshift=8, yshift=LABEL_YSHIFT.get(i, 0), font=LBL))

lf = dict(family=FONT, size=22.5, color='black')
for i in range(len(LEG_NAME)):
    fy = py2fy(53 + 28.3 * i)
    cols = [(582, LEG_NAME[i], 'left'), (655, ':', 'left'), (746, f'{LEG_P[i]} MPa,', 'right'),
            (758, f'{LEG_SIC[i]} wt% SiC,', 'left'), (872, f'{LEG_T[i]}°C,', 'left'),
            (947, f'{LEG_MIN[i]} min.', 'left')]
    for px, t, xa in cols:
        ann.append(dict(xref='paper', yref='paper', x=px2fx(px), y=fy, text=t, showarrow=False,
                        xanchor=xa, yanchor='middle', font=lf))

TF = dict(family=FONT, size=28, color='black')
ann.append(dict(xref='paper', yref='paper', x=px2fx(566), y=py2fy(730), text='Compressive Strain ( mm )',
                showarrow=False, xanchor='center', yanchor='middle', font=TF))
ann.append(dict(xref='paper', yref='paper', x=px2fx(27), y=py2fy(335), text='Compressive Stress ( MPa )',
                showarrow=False, xanchor='center', yanchor='middle', textangle=-90, font=TF))

axis_common = dict(showgrid=False, zeroline=False, showline=True, linecolor='black', linewidth=1.5,
                   mirror=True, ticks='outside', tickcolor='black', tickwidth=1.5, ticklen=9,
                   automargin=False)
fig.update_layout(
    width=W, height=H, margin=dict(l=ML, r=MR, t=MT, b=MB, autoexpand=False),
    paper_bgcolor='white', plot_bgcolor='white', showlegend=False,
    shapes=shapes, annotations=ann,
    xaxis=dict(range=[0, 4], dtick=0.5, tick0=0, tickformat='.1f',
               tickfont=dict(family=FONT, size=23, color='black'),
               minor=dict(dtick=0.25, ticklen=6, tickwidth=1.5, tickcolor='black', ticks='outside'),
               **axis_common),
    yaxis=dict(range=[0, 20], dtick=5, tick0=0,
               tickfont=dict(family=FONT, size=25, color='black'),
               minor=dict(dtick=1, ticklen=5, tickwidth=1.5, tickcolor='black', ticks='outside'),
               **axis_common),
)

fig.write_html('out.html', config={'displayModeBar': False},
               post_script="document.body.style.margin='0';document.body.style.overflow='hidden';")
